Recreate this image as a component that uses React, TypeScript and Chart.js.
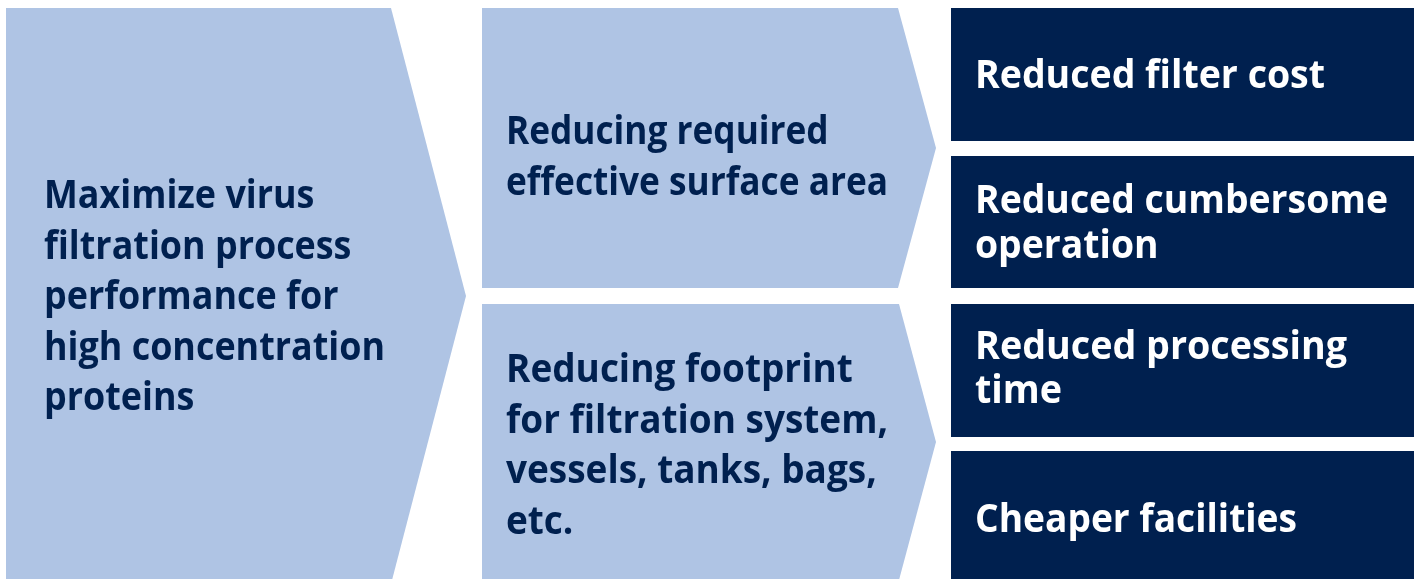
import React, { useEffect, useRef } from "react";
import { Chart, registerables } from "chart.js";

Chart.register(...registerables);

// ---- Diagram data (in diagram units: x 0..1414, y 0..579, y downwards) ----
const stage1Arrow: [number, number][] = [[6, 8], [391, 8], [466, 296], [391, 584], [6, 584]];
const stage2TopArrow: [number, number][] = [[482, 8], [898, 8], [936, 148], [898, 288], [482, 288]];
const stage2BottomArrow: [number, number][] = [[482, 304], [899, 304], [936, 442], [899, 580], [482, 580]];
const outcomeBox1: [number, number][] = [[951, 8], [1414, 8], [1414, 141], [951, 141]];
const outcomeBox2: [number, number][] = [[951, 156], [1414, 156], [1414, 288], [951, 288]];
const outcomeBox3: [number, number][] = [[951, 304], [1414, 304], [1414, 437], [951, 437]];
const outcomeBox4: [number, number][] = [[951, 451], [1414, 451], [1414, 580], [951, 580]];

const stage1Lines = ["Maximize virus", "filtration process", "performance for", "high concentration", "proteins"];
const stage2TopLines = ["Reducing required", "effective surface area"];
const stage2BottomLines = ["Reducing footprint", "for filtration system,", "vessels, tanks, bags,", "etc."];
const outcome1Lines = ["Reduced filter cost"];
const outcome2Lines = ["Reduced cumbersome", "operation"];
const outcome3Lines = ["Reduced processing", "time"];
const outcome4Lines = ["Cheaper facilities"];

// ---- Styles / layout ----
const LIGHT = "#AFC4E4";
const NAVY = "#00204F";
const WHITE = "#FFFFFF";
const FONT_SIZE = 38.5;
const FONT_FAMILY = '"Open Sans", "Noto Sans", sans-serif';

const shapes = [
  { pts: stage1Arrow, color: LIGHT },
  { pts: stage2TopArrow, color: LIGHT },
  { pts: stage2BottomArrow, color: LIGHT },
  { pts: outcomeBox1, color: NAVY },
  { pts: outcomeBox2, color: NAVY },
  { pts: outcomeBox3, color: NAVY },
  { pts: outcomeBox4, color: NAVY },
];

const textBlocks = [
  { lines: stage1Lines, x: 44, y: 208, lh: 50.5, w: 341, color: NAVY },
  { lines: stage2TopLines, x: 506, y: 144, lh: 51, w: 382, color: NAVY },
  { lines: stage2BottomLines, x: 506, y: 382, lh: 50.5, w: 382, color: NAVY },
  { lines: outcome1Lines, x: 975, y: 88, lh: 45, w: 350, color: WHITE },
  { lines: outcome2Lines, x: 975, y: 213, lh: 45, w: 413, color: WHITE },
  { lines: outcome3Lines, x: 975, y: 359, lh: 44, w: 372, color: WHITE },
  { lines: outcome4Lines, x: 975, y: 532, lh: 45, w: 322, color: WHITE },
];

const textPlugin = {
  id: "diagramText",
  afterDatasetsDraw(chart: any) {
    const ctx = chart.ctx as CanvasRenderingContext2D;
    const xs = chart.scales.x;
    const ys = chart.scales.y;
    ctx.save();
    ctx.font = `bold ${FONT_SIZE}px ${FONT_FAMILY}`;
    ctx.textBaseline = "alphabetic";
    ctx.textAlign = "left";
    for (const b of textBlocks) {
      let maxW = 0;
      for (const l of b.lines) maxW = Math.max(maxW, ctx.measureText(l).width);
      const refW = b.lines.reduce((acc, l) => Math.max(acc, 0), 0);
      void refW;
      const sx = b.w / maxW;
      ctx.fillStyle = b.color;
      b.lines.forEach((line, i) => {
        const px = xs.getPixelForValue(b.x);
        const py = ys.getPixelForValue(b.y + i * b.lh);
        ctx.save();
        ctx.translate(px, py);
        ctx.scale(sx, 1);
        ctx.fillText(line, 0, 0);
        ctx.restore();
      });
    }
    ctx.restore();
  },
};

export default function App() {
  const ref = useRef<HTMLCanvasElement | null>(null);
  useEffect(() => {
    if (!ref.current) return;
    const chart = new Chart(ref.current, {
      type: "scatter",
      data: {
        datasets: shapes.map((s) => ({
          data: [...s.pts, s.pts[0]].map(([x, y]) => ({ x, y })),
          showLine: true,
          fill: "shape",
          backgroundColor: s.color,
          borderColor: s.color,
          borderWidth: 0,
          pointRadius: 0,
          pointHoverRadius: 0,
          tension: 0,
        })),
      } as any,
      options: {
        animation: false,
        responsive: false,
        devicePixelRatio: 1,
        layout: { padding: 0 },
        events: [],
        scales: {
          x: { type: "linear", min: 0, max: 1414, display: false },
          y: { type: "linear", min: 0, max: 579, reverse: true, display: false },
        },
        plugins: {
          legend: { display: false },
          tooltip: { enabled: false },
        },
      } as any,
      plugins: [textPlugin],
    });
    return () => chart.destroy();
  }, []);
  return (
    <div style={{ position: "fixed", left: 0, top: 0, width: 1414, height: 579, background: "#fff" }}>
      <canvas ref={ref} width={1414} height={579} style={{ display: "block" }} />
    </div>
  );
}
